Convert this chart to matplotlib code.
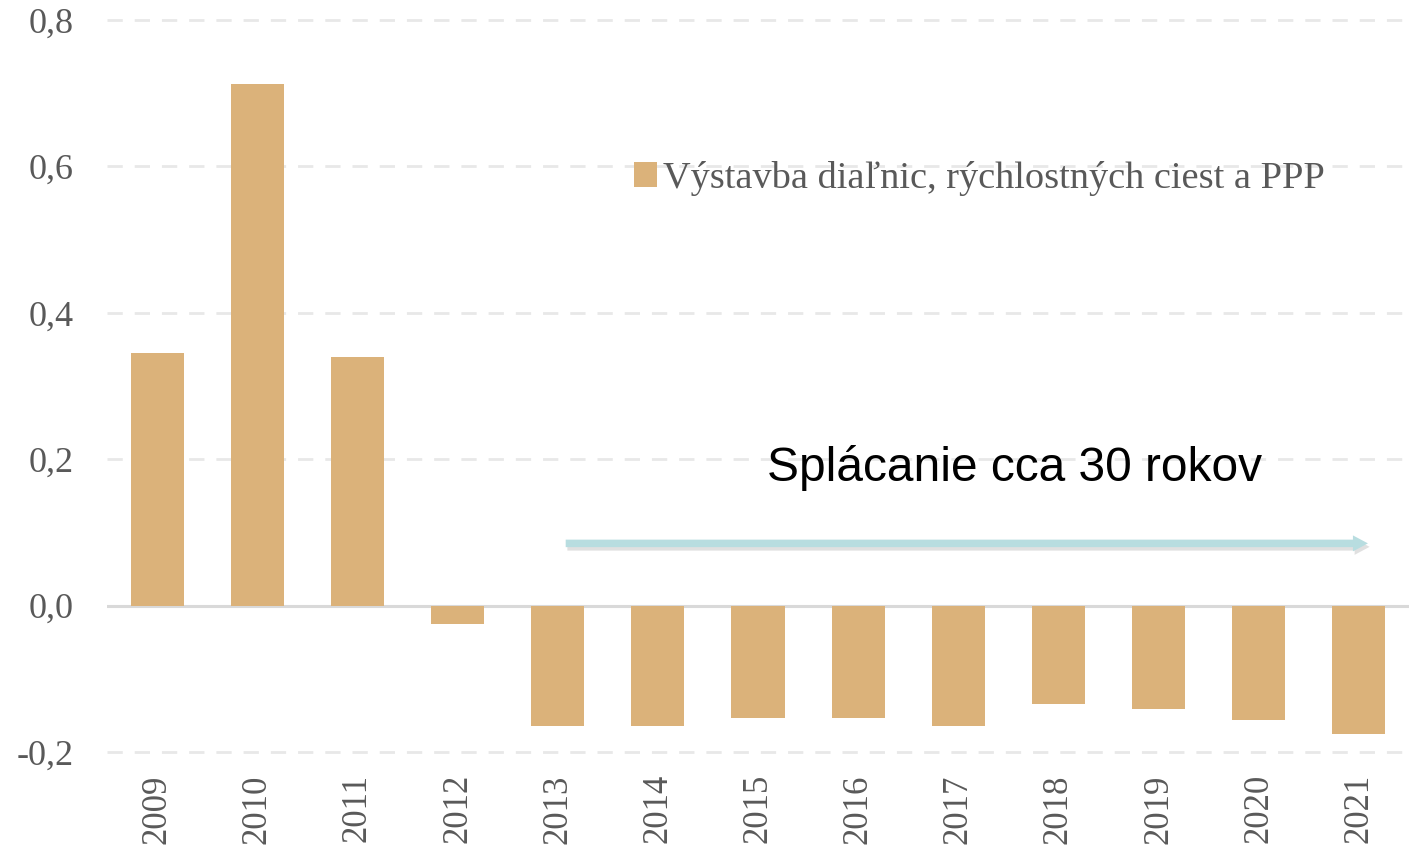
import matplotlib
matplotlib.use("Agg")
import matplotlib.pyplot as plt
import matplotlib.patheffects as pe
from matplotlib.patches import FancyArrowPatch
import numpy as np

years = ["2009", "2010", "2011", "2012", "2013", "2014", "2015", "2016",
         "2017", "2018", "2019", "2020", "2021"]
values = [0.345, 0.713, 0.340, -0.025, -0.164, -0.164, -0.153, -0.153,
          -0.164, -0.135, -0.141, -0.156, -0.175]
yticks = [-0.2, 0.0, 0.2, 0.4, 0.6, 0.8]
ytick_labels = ["-0,2", "0,0", "0,2", "0,4", "0,6", "0,8"]
legend_label = "Výstavba diaľnic, rýchlostných ciest a PPP"
note_text = "Splácanie cca 30 rokov"

bar_color = "#DBB27A"
text_grey = "#595959"

fig = plt.figure(figsize=(14.11, 8.55), dpi=100)
ax = fig.add_axes([107 / 1411, 1 - 752 / 855, (1409 - 107) / 1411, (752 - 20) / 855])

x = np.arange(len(years))
ax.bar(x, values, width=0.53, color=bar_color, zorder=3, label=legend_label)

ax.set_xlim(-0.5, len(years) - 0.5)
ax.set_ylim(-0.2, 0.8)

# grid lines
for t in yticks:
    if t == 0:
        ax.axhline(0, color="#D9D9D9", lw=2.2, zorder=2)
    else:
        ax.axhline(t, color="#E8E8E8", lw=2.0, dashes=(5.5, 4.3), zorder=1, clip_on=False)

for s in ax.spines.values():
    s.set_visible(False)

ax.set_yticks(yticks)
ax.set_yticklabels(ytick_labels, fontsize=26, color=text_grey, family="Liberation Serif")
ax.set_xticks(x)
ax.set_xticklabels(years, rotation=90, fontsize=25, color=text_grey, family="Liberation Serif")
ax.tick_params(axis="both", length=0)
ax.tick_params(axis="y", pad=24)
ax.tick_params(axis="x", pad=16)
for lbl in ax.get_xticklabels():
    lbl.set_verticalalignment("top")

# legend
leg = ax.legend(loc="upper left", bbox_to_anchor=((619 - 107) / 1302, 1 - (146 - 20) / 732),
                frameon=False, handlelength=0.6, handleheight=0.63,
                handletextpad=0.15, borderaxespad=0,
                prop={"family": "Liberation Serif", "size": 27.6})
for txt in leg.get_texts():
    txt.set_color(text_grey)

# arrow
arrow = FancyArrowPatch((4.08, 0.085), (12.09, 0.085),
                        arrowstyle="simple,head_length=10.8,head_width=11.5,tail_width=5.4",
                        mutation_scale=1, fc="#B8DDE0", ec="none", zorder=4,
                        shrinkA=0, shrinkB=0)
arrow.set_path_effects([pe.SimplePatchShadow(offset=(1.2, -2.5), shadow_rgbFace="#999999", alpha=0.3),
                        pe.Normal()])
ax.add_patch(arrow)

ax.text(6.09, 0.188, note_text, fontsize=34.5, family="Liberation Sans",
        color="black", va="center", ha="left")

fig.savefig("out.png", dpi=100, facecolor="white")
